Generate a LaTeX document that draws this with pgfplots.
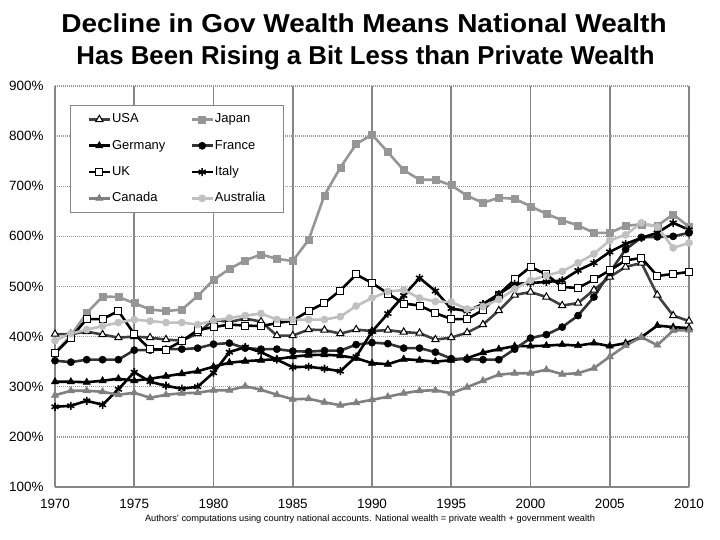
\documentclass[border=0pt]{standalone}
\usepackage{fontspec}
\setmainfont{Liberation Sans}
\usepackage{pgfplots}
\usepackage{pgfplotstable}
\pgfplotsset{compat=1.18}
\definecolor{gridgray}{RGB}{134,134,134}
\definecolor{dotgray}{RGB}{150,150,150}
\definecolor{usaline}{RGB}{64,64,64}
\definecolor{japan}{RGB}{150,150,150}
\definecolor{franceline}{RGB}{51,51,51}
\definecolor{canada}{RGB}{128,128,128}
\definecolor{australia}{RGB}{192,192,192}

\pgfplotstableread{
year USA Japan Germany France UK Italy Canada Australia
1970 405 368 310 352 367 260 283 392
1971 405 402 310 349 398 262 292 406
1972 410 447 309 354 435 272 292 414
1973 404 480 312 354 435 264 290 421
1974 398 479 316 354 451 295 284 428
1975 400 467 312 373 405 329 288 434
1976 398 454 316 373 375 310 278 431
1977 394 451 321 375 374 302 284 428
1978 392 454 326 375 391 296 287 428
1979 406 481 331 377 413 300 288 424
1980 434 513 340 385 419 328 293 432
1981 429 535 348 387 424 369 293 437
1982 436 552 351 377 422 379 301 442
1983 430 564 353 375 421 369 294 446
1984 402 555 355 375 427 354 284 434
1985 402 551 360 371 432 339 275 434
1986 414 593 363 370 451 340 276 434
1987 413 682 364 372 467 336 269 434
1988 406 737 362 372 492 331 263 440
1989 414 784 357 384 524 360 268 461
1990 411 803 347 388 507 410 274 477
1991 413 768 345 386 486 446 280 490
1992 409 732 355 377 466 482 287 493
1993 407 713 353 377 462 517 292 477
1994 394 713 350 369 447 491 293 470
1995 398 702 353 356 435 456 287 469
1996 408 681 357 355 435 451 299 455
1997 424 667 368 354 453 465 312 460
1998 452 677 375 354 484 485 324 474
1999 483 675 381 375 514 505 327 495
2000 489 660 381 397 539 507 327 512
2001 479 645 382 404 524 509 334 522
2002 462 632 384 419 499 512 325 530
2003 467 622 382 442 497 532 327 547
2004 493 607 387 479 514 547 337 565
2005 519 607 381 528 532 569 360 592
2006 539 621 387 574 552 585 382 603
2007 547 624 399 598 557 597 399 627
2008 483 621 422 599 521 607 383 619
2009 442 644 419 600 525 627 412 577
2010 431 619 417 607 529 613 413 587
}\wealth

\begin{document}
\begin{tikzpicture}[x=1bp,y=1bp]
\path[use as bounding box] (0,0) rectangle (720,540);
\node[anchor=base, font=\fontsize{26}{30}\selectfont\bfseries, inner sep=0pt] at (364,507.7) {\scalebox{1.08}[1]{Decline in Gov Wealth Means National Wealth}};
\node[anchor=base, font=\fontsize{26}{30}\selectfont\bfseries, inner sep=0pt] at (365.5,475) {\scalebox{0.995}[1]{Has Been Rising a Bit Less than Private Wealth}};
\node[font=\fontsize{9.3}{11}\selectfont, inner sep=0pt] at (370,21) {Authors' computations using country national accounts. National wealth = private wealth + government wealth};
\begin{axis}[
  at={(55bp,53bp)}, anchor=south west,
  scale only axis, width=634bp, height=401bp,
  xmin=1970, xmax=2010, ymin=100, ymax=900,
  xtick={1970,1975,...,2010}, ytick={100,200,...,900},
  axis lines*=left,
  axis line style={color=gridgray, line width=1.8bp},
  major tick length=0pt,
  xmajorgrids, ymajorgrids,
  x grid style={color=gridgray, line width=1.8bp},
  y grid style={color=dotgray, line width=1.3bp, dash pattern=on 1bp off 1bp},
  tick label style={font=\fontsize{13.5}{15}\selectfont},
  /pgf/number format/assume math mode=true,
  /pgf/number format/1000 sep={},
  yticklabel={\pgfmathprintnumber{\tick}\%},
  yticklabel style={xshift=-8bp},
  xticklabel style={yshift=-8.5bp},
  legend columns=2,
  legend cell align=left,
  legend image code/.code={\draw[mark repeat=2,mark phase=2] plot coordinates {(0bp,0bp) (10.5bp,0bp) (21bp,0bp)};},
  legend style={at={(0.0237,0.9526)}, anchor=north west, draw=gridgray, line width=1bp, fill=white,
    font=\fontsize{13}{15}\selectfont, inner xsep=17bp, inner ysep=7bp,
    nodes={inner sep=1bp, text height=9.5bp, text depth=2.5bp},
    row sep=12.3bp,
    /tikz/every odd column/.append style={column sep=0bp},
    /tikz/every even column/.append style={column sep=24bp}},
  every axis plot/.append style={line width=2.6bp},
]
\addplot[color=usaline, mark=triangle*, mark size=4.2bp, mark options={fill=white, draw=black, line width=1bp}] table[x=year,y=USA] {\wealth};
\addlegendentry{USA}
\addplot[color=japan, mark=square*, mark size=3.5bp, mark options={fill=japan, draw=japan, line width=0.5bp}] table[x=year,y=Japan] {\wealth};
\addlegendentry{Japan}
\addplot[color=black, mark=triangle*, mark size=4.2bp, mark options={fill=black, draw=black, line width=0.5bp}] table[x=year,y=Germany] {\wealth};
\addlegendentry{Germany}
\addplot[color=franceline, mark=*, mark size=3.6bp, mark options={fill=black, draw=black, line width=0.5bp}] table[x=year,y=France] {\wealth};
\addlegendentry{France}
\addplot[color=black, mark=square*, mark size=3.5bp, mark options={fill=white, draw=black, line width=1bp}] table[x=year,y=UK] {\wealth};
\addlegendentry{UK}
\addplot[color=black, mark=asterisk, mark size=4bp, mark options={draw=black, line width=1.6bp}] table[x=year,y=Italy] {\wealth};
\addlegendentry{Italy}
\addplot[color=canada, mark=triangle*, mark size=4.2bp, mark options={fill=canada, draw=canada, line width=0.5bp}] table[x=year,y=Canada] {\wealth};
\addlegendentry{Canada}
\addplot[color=australia, mark=*, mark size=3.6bp, mark options={fill=australia, draw=australia, line width=0.5bp}] table[x=year,y=Australia] {\wealth};
\addlegendentry{Australia}
\end{axis}
\end{tikzpicture}
\end{document}
